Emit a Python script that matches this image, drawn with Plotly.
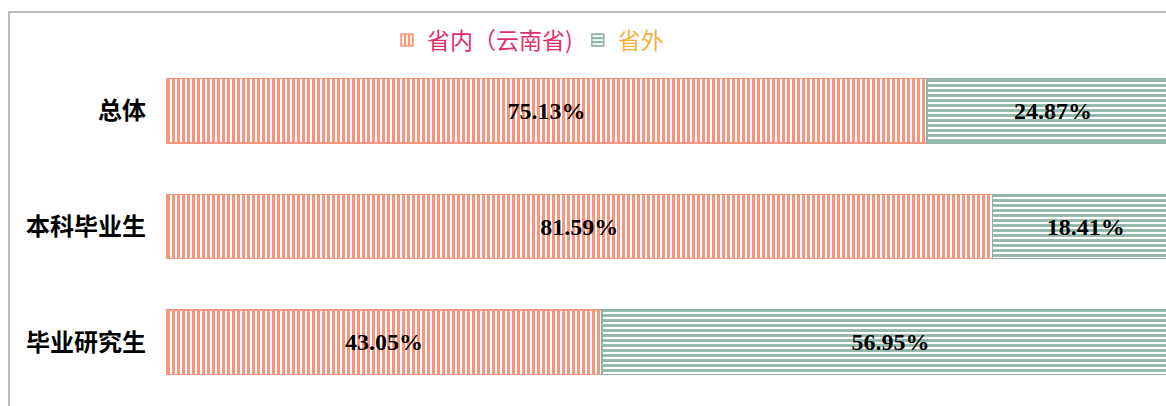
import plotly.graph_objects as go

categories = ["总体", "本科毕业生", "毕业研究生"]
inside = [75.13, 81.59, 43.05]
outside = [24.87, 18.41, 56.95]
series_names = ["省内（云南省)", "省外"]

fig = go.Figure()
fig.add_trace(go.Bar(
    y=categories, x=inside, orientation="h",
    name="<span style='color:#E0306A'>" + series_names[0] + "</span>",
    text=[f"{v:.2f}%" for v in inside], textposition="inside", insidetextanchor="middle",
    textfont=dict(family="Liberation Serif", size=24, color="black", weight="bold"),
    marker=dict(color="#F7967E", line=dict(color="#F7967E", width=1.5),
                pattern=dict(shape="|", fgcolor="#F7967E", bgcolor="white", size=5, solidity=0.6, fillmode="replace")),
    width=0.555,
))
fig.add_trace(go.Bar(
    y=categories, x=outside, orientation="h",
    name="<span style='color:#F5B03E'>" + series_names[1] + "</span>",
    text=[f"{v:.2f}%" for v in outside], textposition="inside", insidetextanchor="middle",
    textfont=dict(family="Liberation Serif", size=24, color="black", weight="bold"),
    marker=dict(color="#8DB5A5", line=dict(color="#8DB5A5", width=1.5),
                pattern=dict(shape="-", fgcolor="#8DB5A5", bgcolor="white", size=5, solidity=0.55, fillmode="replace")),
    width=0.555,
))

fig.update_layout(
    width=1166, height=406,
    barmode="stack",
    margin=dict(l=166, r=0, t=53, b=6),
    paper_bgcolor="white", plot_bgcolor="white",
    showlegend=True,
    legend=dict(orientation="h", x=0.362, xanchor="center", y=1.037, yanchor="middle",
                font=dict(family="Noto Sans CJK SC", size=23), traceorder="normal",
                itemwidth=30, bgcolor="rgba(0,0,0,0)"),
    xaxis=dict(range=[0, 98.72], visible=False, fixedrange=True),
    yaxis=dict(categoryorder="array", categoryarray=categories, autorange="reversed",
               tickfont=dict(family="Noto Sans CJK SC", size=24, color="black", weight="bold"),
               ticklabelstandoff=19, showgrid=False, showline=False, ticks="", fixedrange=True),
    uniformtext=dict(mode="show", minsize=10),
)
fig.add_shape(type="rect", xref="paper", yref="paper",
              x0=-0.157, x1=1.05, y0=-0.2, y1=1.118,
              line=dict(color="#A6A6A6", width=1.5), fillcolor="rgba(0,0,0,0)", layer="below")

fig.write_html("out.html", config={"displayModeBar": False},
               post_script="document.body.style.margin='0';document.body.style.overflow='hidden';")
